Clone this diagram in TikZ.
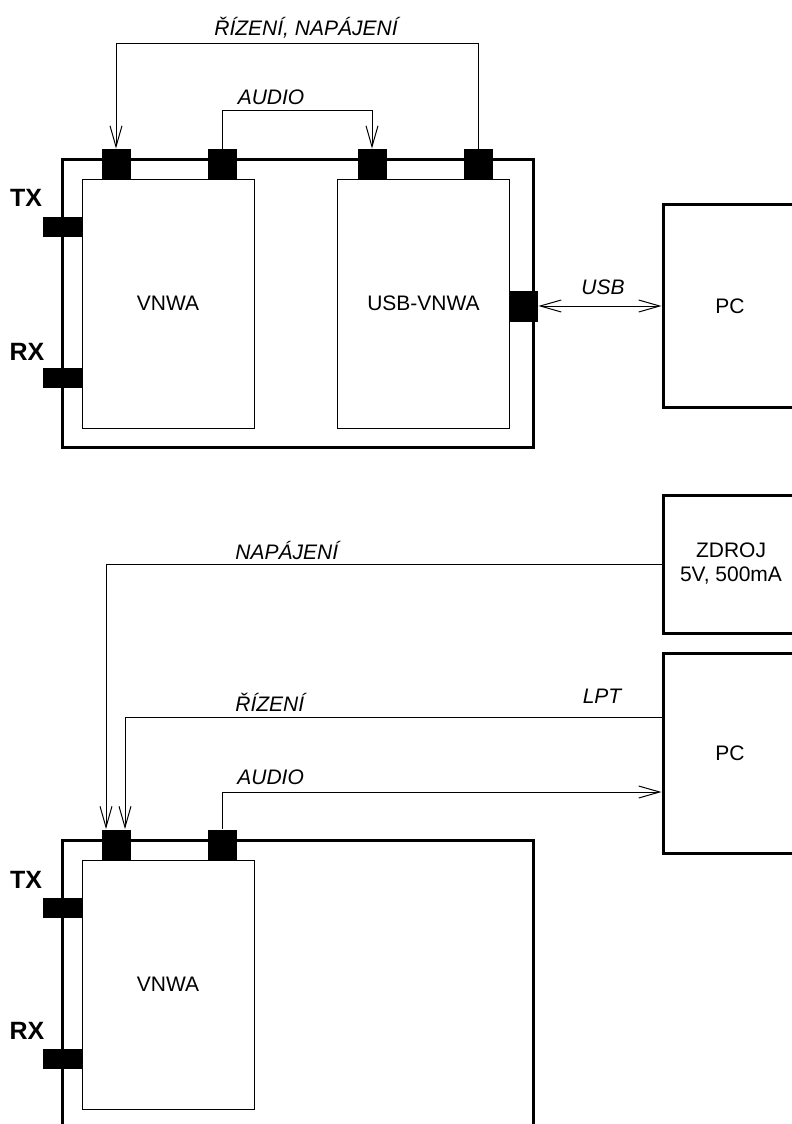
\documentclass[tikz,border=0pt]{standalone}
\usepackage{fontspec}
\setmainfont{Liberation Sans}
\usetikzlibrary{arrows.meta}
\usetikzlibrary{positioning}

\tikzset{
    blok/.style={draw, line width=1.5pt, minimum width=67pt, minimum height=101.5pt, inner sep=0pt, font=\fontsize{10.5}{12}\selectfont},
    deska/.style={draw, line width=0.5pt, minimum width=86pt, minimum height=124.5pt, inner sep=0pt, font=\fontsize{10.5}{12}\selectfont},
    konektor/.style={fill=black, minimum width=14.5pt, minimum height=15.5pt, inner sep=0pt},
    bocni/.style={fill=black, minimum width=19.5pt, minimum height=10pt, inner sep=0pt},
    popis/.style={inner sep=0pt, font=\fontsize{10.5}{12}\selectfont\itshape},
    port/.style={inner sep=0pt, font=\fontsize{12.5}{14}\selectfont\bfseries},
    vodic/.style={line width=0.5pt},
    sipka/.style={-{Straight Barb[length=10.5pt,width=6pt]}},
    obousipka/.style={{Straight Barb[length=10.5pt,width=6pt]}-{Straight Barb[length=10.5pt,width=6pt]}}
}

\begin{document}
\begin{tikzpicture}[x=0.5pt, y=-0.5pt]
        \clip (0,0) rectangle (792,1124);

        % horni zapojeni: VNWA + USB-VNWA
        \draw[line width=1.5pt] (62,159) rectangle (533,447);
        \node[deska] (vnwaA) at (168,303.5) {VNWA};
        \node[deska] (usbA) at (423.5,303.5) {USB-VNWA};
        \foreach \n/\x in {1/116,2/222,3/372,4/478} {
            \node[konektor] (kA\n) at (\x,164.5) {};
        }
        \node[bocni] (txA) at (62.5,227) {};
        \node[bocni] (rxA) at (62.5,377.5) {};
        \node[port] at (26,198) {TX};
        \node[port] at (27,352) {RX};
        \node[konektor] (usbK) at (523.5,306) {};
        \node[blok] (pcA) at (730,306) {PC};

        \draw[vodic,sipka] (kA4.north) -- ++(0,-105) -| (kA1.north);
        \node[popis] at (306,28) {ŘÍZENÍ, NAPÁJENÍ};
        \draw[vodic,sipka] (kA2.north) -- ++(0,-38) -| (kA3.north);
        \node[popis] at (271,97) {AUDIO};
        \draw[vodic,obousipka] (usbK.east) -- (pcA.west);
        \node[popis] at (603,287) {USB};

        % dolni zapojeni: VNWA, LPT
        \draw[line width=1.5pt] (62,1140) |- (533,840) -- (533,1140);
        \node[deska] (vnwaB) at (168,984.5) {VNWA};
        \foreach \n/\x in {1/116,2/222} {
            \node[konektor] (kB\n) at (\x,845) {};
        }
        \node[bocni] (txB) at (62.5,907.5) {};
        \node[bocni] (rxB) at (62.5,1058.5) {};
        \node[port] at (26,880) {TX};
        \node[port] at (27,1031) {RX};
        \node[blok, minimum width=68pt, minimum height=69pt, align=center] (zdroj) at (731,564) {ZDROJ\\5V, 500mA};
        \node[blok, minimum height=100pt] (pcB) at (730,753) {PC};

        \draw[vodic,sipka] (zdroj.west) -| ([xshift=-5pt]kB1.north);
        \node[popis, anchor=west] at (235,550) {NAPÁJENÍ};
        \draw[vodic,sipka] ([yshift=18pt]pcB.west) -| ([xshift=4.5pt]kB1.north);
        \node[popis, anchor=west] at (235,702) {ŘÍZENÍ};
        \node[popis] at (602,696) {LPT};
        \draw[vodic,sipka] (kB2.north) |- ([yshift=-19.5pt]pcB.west);
        \node[popis, anchor=west] at (237,777) {AUDIO};
    \end{tikzpicture}
\end{document}
